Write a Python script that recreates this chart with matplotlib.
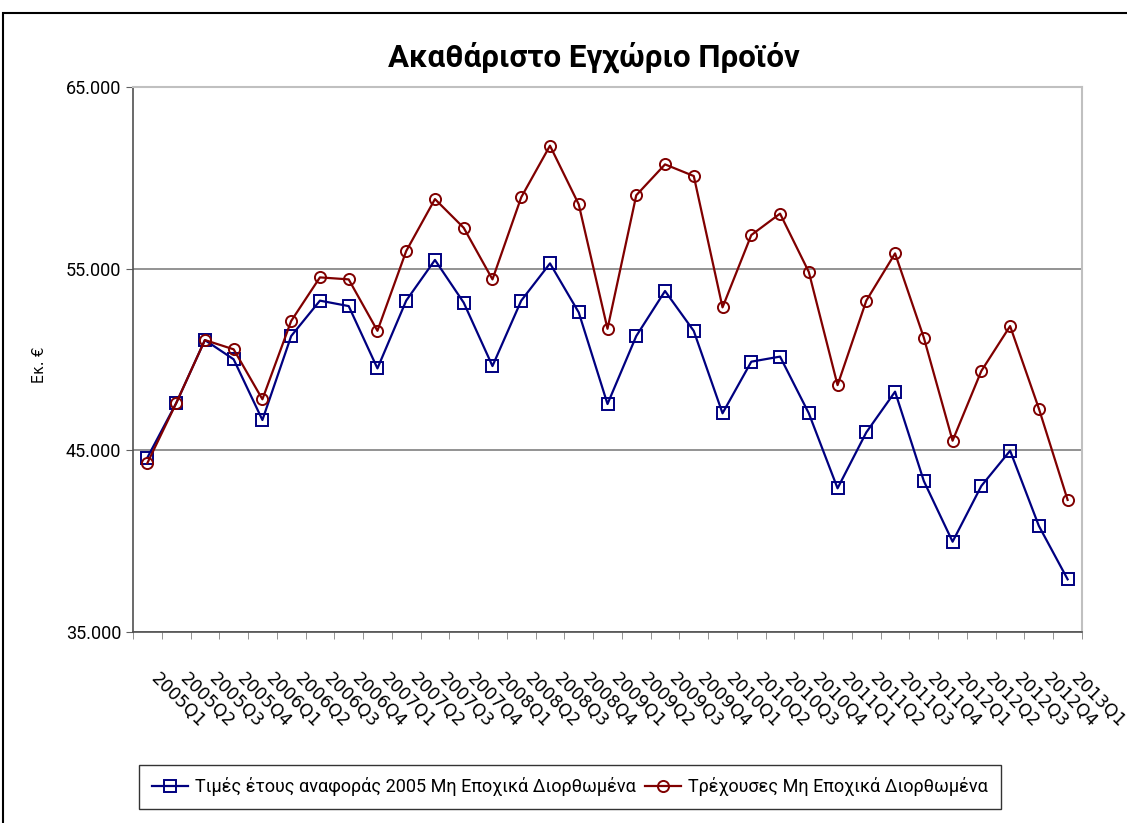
"""Ακαθάριστο Εγχώριο Προϊόν - quarterly GDP, constant vs current prices."""
import matplotlib.pyplot as plt
from matplotlib.patches import Rectangle
from matplotlib.ticker import FuncFormatter, FixedLocator

quarters = [f"{y}Q{q}" for y in range(2005, 2013) for q in range(1, 5)] + ["2013Q1"]

constant_2005 = [
    44600, 47590, 51070, 50010, 46670, 51290, 53240, 52940, 49510, 53240, 55480,
    53130, 49640, 53240, 55290, 52590, 47550, 51290, 53770, 51570, 47040, 49880,
    50160, 47040, 42910, 45990, 48230, 43310, 39970, 43040, 44980, 40840, 37900,
]
current_prices = [
    44300, 47590, 51070, 50560, 47810, 52120, 54520, 54410, 51580, 55970, 58830,
    57250, 54410, 58930, 61770, 58540, 51690, 59040, 60740, 60100, 52870, 56850,
    58030, 54820, 48590, 53240, 55840, 51200, 45530, 49370, 51840, 47300, 42270,
]

series_labels = [
    "Τιμές έτους αναφοράς 2005 Μη Εποχικά Διορθωμένα",
    "Τρέχουσες Μη Εποχικά Διορθωμένα",
]

NARROW = ["Roboto", "DejaVu Sans"]

fig = plt.figure(figsize=(11.27, 8.23), dpi=100)
ax = fig.add_axes([133 / 1127, 1 - 632 / 823, (1082 - 133) / 1127, (632 - 87) / 823])

x = list(range(len(quarters)))
ax.plot(x, constant_2005, color="#000080", lw=1.6, marker="s", ms=8,
        mfc="none", mec="#000080", mew=1.4, label=series_labels[0])
ax.plot(x, current_prices, color="#800000", lw=1.6, marker="o", ms=8,
        mfc="none", mec="#800000", mew=1.4, label=series_labels[1])

ax.set_xlim(-0.5, len(quarters) - 0.5)
ax.set_ylim(35000, 65000)
ax.set_yticks([35000, 45000, 55000, 65000])
ax.yaxis.set_major_formatter(FuncFormatter(lambda v, _: f"{v:,.0f}".replace(",", ".")))
ax.grid(axis="y", color="#808080", lw=1.2)
ax.set_axisbelow(True)

ax.set_xticks(x)
ax.set_xticklabels(quarters, rotation=-45, ha="left", va="top",
                   fontsize=12.5, family="DejaVu Sans")
ax.xaxis.set_minor_locator(FixedLocator([i - 0.5 for i in range(len(quarters) + 1)]))
ax.tick_params(axis="x", which="major", length=0, pad=27)
ax.tick_params(axis="x", which="minor", length=5, color="#808080")
ax.tick_params(axis="y", length=5, color="#606060", labelsize=13)
for lab in ax.get_yticklabels():
    lab.set_family(NARROW)

for side in ("top", "right"):
    ax.spines[side].set_color("#c0c0c0")
    ax.spines[side].set_linewidth(1.5)
for side in ("left", "bottom"):
    ax.spines[side].set_color("#505050")
    ax.spines[side].set_linewidth(1.2)

fig.text(40 / 1127, 1 - 365 / 823, "Εκ. €", rotation=90, ha="center",
         va="center", fontsize=10.5)

fig.text(594 / 1127, 1 - 57 / 823, "Ακαθάριστο Εγχώριο Προϊόν", ha="center",
         va="center", fontsize=22.5, fontweight="bold", family=NARROW)

leg = fig.legend(loc="center", bbox_to_anchor=(570 / 1127, 1 - 787 / 823), ncol=2,
                 frameon=True, fancybox=False, edgecolor="black",
                 prop={"family": NARROW, "size": 13}, handlelength=2.0,
                 columnspacing=0.5, handletextpad=0.4, borderpad=0.7)
leg.get_frame().set_linewidth(1.0)

fig.patches.append(Rectangle((3 / 1127, -0.05), 1.2, 1 - 13 / 823 + 0.05,
                             transform=fig.transFigure, fill=False,
                             edgecolor="black", lw=1.5))

fig.savefig("out.png", dpi=100)
